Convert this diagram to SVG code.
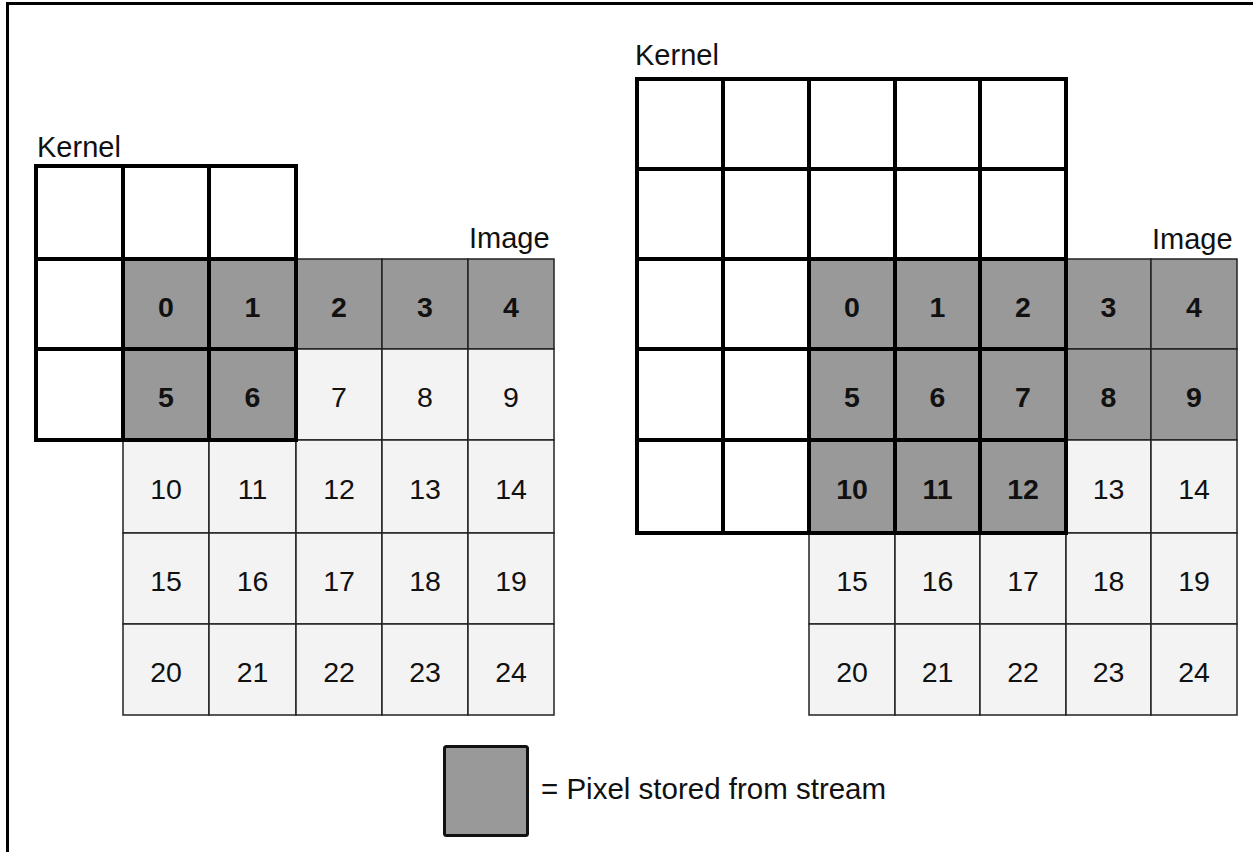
<svg xmlns="http://www.w3.org/2000/svg" width="1253" height="852" viewBox="0 0 1253 852">
<style>
.g{fill:#999999;stroke:#222;stroke-width:1.5}
.l{fill:#f3f3f3;stroke:#222;stroke-width:1.5}
.k{fill:none;stroke:#000;stroke-width:4;stroke-linecap:square}
.t{font-family:"Liberation Sans",Arial,sans-serif;font-size:28.5px;fill:#111;text-anchor:middle}
.tb{font-family:"Liberation Sans",Arial,sans-serif;font-size:28.5px;font-weight:bold;fill:#111;text-anchor:middle}
.lab{font-family:"Liberation Sans",Arial,sans-serif;font-size:29px;fill:#111}
</style>
<rect width="1253" height="852" fill="#fff"/>
<path d="M7.5 852 V3.5 H1253" fill="none" stroke="#000" stroke-width="3"/>

<g id="left-image">
<rect class="g" x="123" y="259" width="86" height="90"/><rect class="g" x="209" y="259" width="87" height="90"/><rect class="g" x="296" y="259" width="86" height="90"/><rect class="g" x="382" y="259" width="86" height="90"/><rect class="g" x="468" y="259" width="86" height="90"/>
<rect class="g" x="123" y="349" width="86" height="91"/><rect class="g" x="209" y="349" width="87" height="91"/><rect class="l" x="296" y="349" width="86" height="91"/><rect class="l" x="382" y="349" width="86" height="91"/><rect class="l" x="468" y="349" width="86" height="91"/>
<rect class="l" x="123" y="440" width="86" height="93"/><rect class="l" x="209" y="440" width="87" height="93"/><rect class="l" x="296" y="440" width="86" height="93"/><rect class="l" x="382" y="440" width="86" height="93"/><rect class="l" x="468" y="440" width="86" height="93"/>
<rect class="l" x="123" y="533" width="86" height="91"/><rect class="l" x="209" y="533" width="87" height="91"/><rect class="l" x="296" y="533" width="86" height="91"/><rect class="l" x="382" y="533" width="86" height="91"/><rect class="l" x="468" y="533" width="86" height="91"/>
<rect class="l" x="123" y="624" width="86" height="91"/><rect class="l" x="209" y="624" width="87" height="91"/><rect class="l" x="296" y="624" width="86" height="91"/><rect class="l" x="382" y="624" width="86" height="91"/><rect class="l" x="468" y="624" width="86" height="91"/>
<text class="tb" x="166" y="317">0</text><text class="tb" x="252.5" y="317">1</text><text class="tb" x="339" y="317">2</text><text class="tb" x="425" y="317">3</text><text class="tb" x="511" y="317">4</text>
<text class="tb" x="166" y="407">5</text><text class="tb" x="252.5" y="407">6</text><text class="t" x="339" y="407">7</text><text class="t" x="425" y="407">8</text><text class="t" x="511" y="407">9</text>
<text class="t" x="166" y="499">10</text><text class="t" x="252.5" y="499">11</text><text class="t" x="339" y="499">12</text><text class="t" x="425" y="499">13</text><text class="t" x="511" y="499">14</text>
<text class="t" x="166" y="591">15</text><text class="t" x="252.5" y="591">16</text><text class="t" x="339" y="591">17</text><text class="t" x="425" y="591">18</text><text class="t" x="511" y="591">19</text>
<text class="t" x="166" y="682">20</text><text class="t" x="252.5" y="682">21</text><text class="t" x="339" y="682">22</text><text class="t" x="425" y="682">23</text><text class="t" x="511" y="682">24</text>
<text class="lab" x="469" y="248">Image</text>
</g>

<g id="left-kernel">
<path class="k" d="M36 166 H296 V440 H36 Z M123 166 V440 M209 166 V440 M36 259 H296 M36 349 H296"/>
<text class="lab" x="37" y="157">Kernel</text>
</g>

<g id="right-image">
<rect class="g" x="809" y="259" width="86" height="90"/><rect class="g" x="895" y="259" width="85" height="90"/><rect class="g" x="980" y="259" width="86" height="90"/><rect class="g" x="1066" y="259" width="85" height="90"/><rect class="g" x="1151" y="259" width="86" height="90"/>
<rect class="g" x="809" y="349" width="86" height="91"/><rect class="g" x="895" y="349" width="85" height="91"/><rect class="g" x="980" y="349" width="86" height="91"/><rect class="g" x="1066" y="349" width="85" height="91"/><rect class="g" x="1151" y="349" width="86" height="91"/>
<rect class="g" x="809" y="440" width="86" height="93"/><rect class="g" x="895" y="440" width="85" height="93"/><rect class="g" x="980" y="440" width="86" height="93"/><rect class="l" x="1066" y="440" width="85" height="93"/><rect class="l" x="1151" y="440" width="86" height="93"/>
<rect class="l" x="809" y="533" width="86" height="91"/><rect class="l" x="895" y="533" width="85" height="91"/><rect class="l" x="980" y="533" width="86" height="91"/><rect class="l" x="1066" y="533" width="85" height="91"/><rect class="l" x="1151" y="533" width="86" height="91"/>
<rect class="l" x="809" y="624" width="86" height="91"/><rect class="l" x="895" y="624" width="85" height="91"/><rect class="l" x="980" y="624" width="86" height="91"/><rect class="l" x="1066" y="624" width="85" height="91"/><rect class="l" x="1151" y="624" width="86" height="91"/>
<text class="tb" x="852" y="317">0</text><text class="tb" x="937.5" y="317">1</text><text class="tb" x="1023" y="317">2</text><text class="tb" x="1108.5" y="317">3</text><text class="tb" x="1194" y="317">4</text>
<text class="tb" x="852" y="407">5</text><text class="tb" x="937.5" y="407">6</text><text class="tb" x="1023" y="407">7</text><text class="tb" x="1108.5" y="407">8</text><text class="tb" x="1194" y="407">9</text>
<text class="tb" x="852" y="499">10</text><text class="tb" x="937.5" y="499">11</text><text class="tb" x="1023" y="499">12</text><text class="t" x="1108.5" y="499">13</text><text class="t" x="1194" y="499">14</text>
<text class="t" x="852" y="591">15</text><text class="t" x="937.5" y="591">16</text><text class="t" x="1023" y="591">17</text><text class="t" x="1108.5" y="591">18</text><text class="t" x="1194" y="591">19</text>
<text class="t" x="852" y="682">20</text><text class="t" x="937.5" y="682">21</text><text class="t" x="1023" y="682">22</text><text class="t" x="1108.5" y="682">23</text><text class="t" x="1194" y="682">24</text>
<text class="lab" x="1152" y="249">Image</text>
</g>

<g id="right-kernel">
<path class="k" d="M637 79 H1066 V533 H637 Z M723 79 V533 M809 79 V533 M895 79 V533 M980 79 V533 M637 169 H1066 M637 259 H1066 M637 349 H1066 M637 440 H1066"/>
<text class="lab" x="635" y="65">Kernel</text>
</g>

<g id="legend">
<rect x="444.5" y="746.5" width="83" height="89" rx="2" fill="#999999" stroke="#111" stroke-width="3"/>
<text class="lab" x="541" y="799" style="font-size:29.5px">= Pixel stored from stream</text>
</g>
</svg>
